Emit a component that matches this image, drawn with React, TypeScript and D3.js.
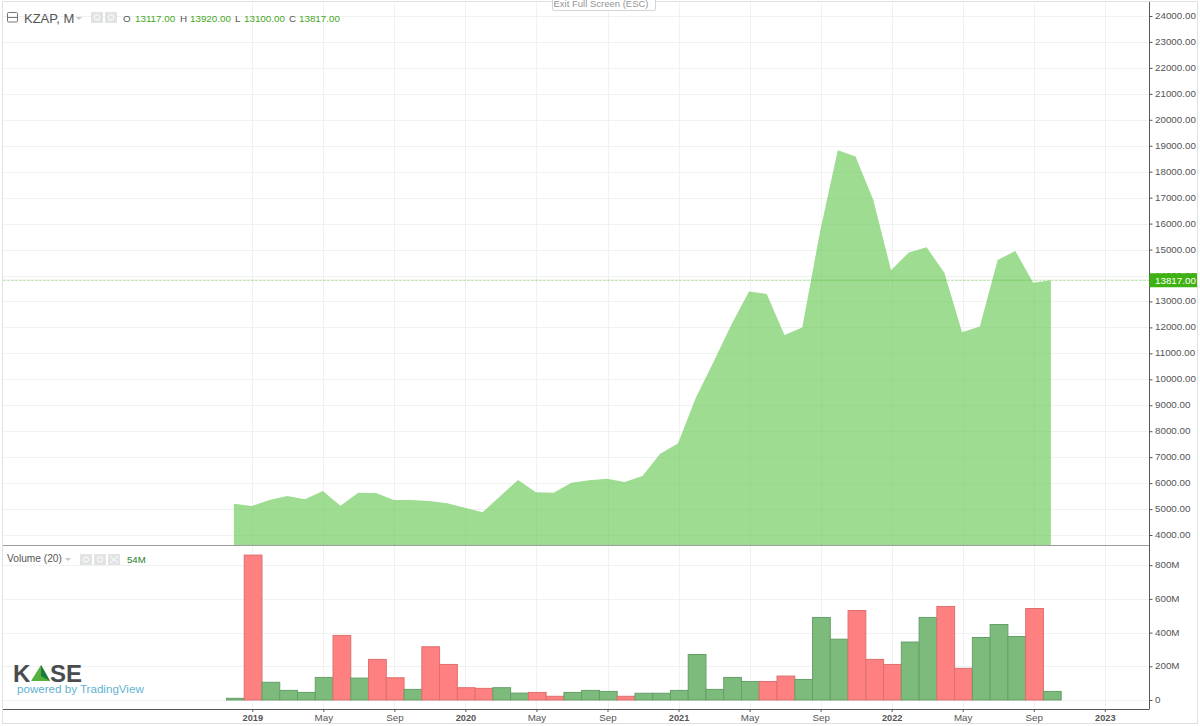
import React, { useEffect, useRef } from 'react';
import * as d3 from 'd3';

const months = [
  '2018-12',
  '2019-01', '2019-02', '2019-03', '2019-04', '2019-05', '2019-06', '2019-07', '2019-08', '2019-09', '2019-10', '2019-11', '2019-12',
  '2020-01', '2020-02', '2020-03', '2020-04', '2020-05', '2020-06', '2020-07', '2020-08', '2020-09', '2020-10', '2020-11', '2020-12',
  '2021-01', '2021-02', '2021-03', '2021-04', '2021-05', '2021-06', '2021-07', '2021-08', '2021-09', '2021-10', '2021-11', '2021-12',
  '2022-01', '2022-02', '2022-03', '2022-04', '2022-05', '2022-06', '2022-07', '2022-08', '2022-09', '2022-10',
];

const closes = [
  5206,
  5117, 5349, 5503, 5375, 5696, 5129, 5631, 5618, 5349, 5349, 5310, 5221,
  5052, 4875, 5503, 6119, 5644, 5631, 6016, 6107, 6170, 6042, 6273, 7133,
  7530, 9280, 10670, 12090, 13380, 13290, 11707, 12000, 15690, 18825, 18590, 16910,
  14200, 14890, 15085, 14108, 11810, 12030, 14600, 14945, 13720, 13817,
];

// volume in millions
const volumes = [
  10,
  860, 105, 57, 45, 134, 383, 130, 241, 132, 63, 316, 211,
  73, 69, 73, 41, 45, 22, 45, 57, 51, 22, 40, 40,
  57, 270, 63, 134, 110, 110, 142, 122, 490, 361, 531, 241,
  211, 344, 490, 555, 188, 371, 448, 377, 543, 51,
];

const volumeUp = [
  1,
  0, 1, 1, 1, 1, 0, 1, 0, 0, 1, 0, 0,
  0, 0, 1, 1, 0, 0, 1, 1, 1, 0, 1, 1,
  1, 1, 1, 1, 1, 0, 0, 1, 1, 1, 0, 0,
  0, 1, 1, 0, 0, 1, 1, 1, 0, 1,
];

const timeTickIndex = [1, 5, 9, 13, 17, 21, 25, 29, 33, 37, 41, 45, 49];
const timeTickLabels = ['2019', 'May', 'Sep', '2020', 'May', 'Sep', '2021', 'May', 'Sep', '2022', 'May', 'Sep', '2023'];

const priceTicks = d3.range(4000, 24001, 1000);
const volumeTicks = [0, 200, 400, 600, 800];
const lastClose = 13817;

const FONT = 'Arial, "Liberation Sans", sans-serif';
const AXIS_COLOR = '#55575a';
const GRID = '#f0f1f1';

const App: React.FC = () => {
  const svgRef = useRef<SVGSVGElement>(null);

  useEffect(() => {
    if (!svgRef.current) return;
    const svg = d3.select(svgRef.current);
    svg.selectAll('*').remove();

    const left = 3;
    const axisX = 1149.5;
    const paneBottom = 545;
    const volBottom = 709;

    const x = d3.scaleLinear().domain([0, 1]).range([234.54, 252.3]);
    const y = d3.scaleLinear().domain([4000, 24000]).range([535, 16]);
    const yVol = d3.scaleLinear().domain([0, 800]).range([700, 565.2]);
    const barW = x(1) - x(0);

    svg.append('rect').attr('x', 0).attr('y', 0).attr('width', 1200).attr('height', 726).attr('fill', '#fff');

    // grid
    const grid = svg.append('g').attr('stroke', GRID).attr('stroke-width', 1);
    timeTickIndex.forEach(i => {
      grid.append('line')
        .attr('x1', Math.round(x(i)) + 0.5).attr('x2', Math.round(x(i)) + 0.5)
        .attr('y1', 2).attr('y2', volBottom);
    });
    priceTicks.forEach(t => {
      grid.append('line').attr('x1', left).attr('x2', axisX)
        .attr('y1', Math.round(y(t)) + 0.5).attr('y2', Math.round(y(t)) + 0.5);
    });
    volumeTicks.forEach(t => {
      grid.append('line').attr('x1', left).attr('x2', axisX)
        .attr('y1', Math.round(yVol(t)) + 0.5).attr('y2', Math.round(yVol(t)) + 0.5);
    });

    // price area, sits a touch left of the month ticks like the original
    const area = d3.area<number>()
      .x((_, i) => x(i) - 0.6)
      .y0(paneBottom)
      .y1(d => y(d));
    svg.append('path').datum(closes).attr('d', area)
      .attr('fill', 'rgb(100, 200, 80)').attr('fill-opacity', 0.63);

    // last price line
    svg.append('line')
      .attr('x1', left).attr('x2', axisX)
      .attr('y1', y(lastClose)).attr('y2', y(lastClose))
      .attr('stroke', '#3fb213').attr('stroke-opacity', 0.4).attr('stroke-width', 1).attr('stroke-dasharray', '3,1');

    // volume bars
    svg.append('g').selectAll('rect')
      .data(volumes)
      .enter().append('rect')
      .attr('x', (_, i) => x(i) + 0.8 - barW / 2)
      .attr('width', barW)
      .attr('y', d => yVol(d))
      .attr('height', d => yVol(0) - yVol(d))
      .attr('fill', (_, i) => (volumeUp[i] ? '#7dbb7d' : '#ff8080'))
      .attr('stroke', (_, i) => (volumeUp[i] ? '#669f68' : '#dd7070'))
      .attr('stroke-width', 1);

    // axes
    const priceAxis = d3.axisRight(y)
      .tickValues(priceTicks)
      .tickSize(3)
      .tickPadding(2.5)
      .tickFormat(d => d3.format('.2f')(d as number));
    const volAxis = d3.axisRight(yVol)
      .tickValues(volumeTicks)
      .tickSize(3)
      .tickPadding(2.5)
      .tickFormat(d => (d === 0 ? '0' : `${d}M`));
    const timeAxis = d3.axisBottom(x)
      .tickValues(timeTickIndex)
      .tickSize(3)
      .tickPadding(2.5)
      .tickFormat((_, i) => timeTickLabels[i]);

    const rightAxes = [
      svg.append('g').attr('transform', `translate(${axisX},0)`).call(priceAxis),
      svg.append('g').attr('transform', `translate(${axisX},0)`).call(volAxis),
    ];
    rightAxes.forEach(g => g.selectAll('text').attr('y', -0.6));

    [
      ...rightAxes,
      svg.append('g').attr('transform', `translate(0,${volBottom})`).call(timeAxis),
    ].forEach(g => {
      g.select('.domain').remove();
      g.selectAll('line').attr('stroke', AXIS_COLOR);
      g.selectAll('text')
        .attr('fill', '#555')
        .style('font-family', FONT)
        .style('font-size', '9.8px');
    });
    svg.selectAll('g.tick text')
      .filter(function () {
        return /^20\d\d$/.test((this as SVGTextElement).textContent || '');
      })
      .style('font-size', '9.2px')
      .style('font-weight', '700');

    // pane borders
    const border = svg.append('g').attr('stroke', AXIS_COLOR).attr('fill', 'none');
    border.append('line').attr('x1', left).attr('x2', axisX).attr('y1', 545.5).attr('y2', 545.5).attr('stroke', '#9a9c9e');
    border.append('line').attr('x1', left).attr('x2', axisX).attr('y1', volBottom + 0.5).attr('y2', volBottom + 0.5);
    border.append('line').attr('x1', axisX).attr('x2', axisX).attr('y1', 2).attr('y2', volBottom);
    svg.append('rect')
      .attr('x', 2.5).attr('y', 1.5).attr('width', 1195).attr('height', 722)
      .attr('fill', 'none').attr('stroke', '#dfe0e1');

    // last price badge
    const badge = svg.append('g').attr('transform', `translate(${axisX},${y(lastClose)})`);
    badge.append('rect').attr('x', 0).attr('y', -7).attr('width', 47.5).attr('height', 14).attr('fill', '#3fb213');
    badge.append('text').attr('x', 5.5).attr('y', 3.5)
      .attr('fill', '#fff').style('font-family', FONT).style('font-size', '9.8px')
      .text('13817.00');

    // header legend
    const head = svg.append('g').style('font-family', FONT);
    head.append('rect').attr('x', 7.5).attr('y', 12.5).attr('width', 10).attr('height', 9.5).attr('rx', 1)
      .attr('fill', 'none').attr('stroke', '#777');
    head.append('line').attr('x1', 8).attr('x2', 17).attr('y1', 17.5).attr('y2', 17.5).attr('stroke', '#777');
    head.append('text').attr('x', 24).attr('y', 23).attr('fill', '#555').style('font-size', '13px').text('KZAP, M');
    head.append('path').attr('d', 'M76 17 L82 17 L79 20 Z').attr('fill', '#c8c8c8');
    [91, 105].forEach(bx => {
      head.append('rect').attr('x', bx).attr('y', 12).attr('width', 12).attr('height', 11).attr('fill', '#e2e3e4');
      head.append('circle').attr('cx', bx + 6).attr('cy', 17.5).attr('r', 2.6).attr('fill', 'none').attr('stroke', '#fff');
    });
    const ohlc: [number, string, number, string][] = [
      [123, 'O', 135, '13117.00'], [180, 'H', 190, '13920.00'], [235, 'L', 244, '13100.00'], [289, 'C', 299, '13817.00'],
    ];
    ohlc.forEach(([kx, k, vx, v]) => {
      head.append('text').attr('x', kx).attr('y', 22).attr('fill', '#555').style('font-size', '9.8px').text(k);
      head.append('text').attr('x', vx).attr('y', 22).attr('fill', '#45a825').style('font-size', '9.8px').text(v);
    });

    // volume legend
    const volHead = svg.append('g').style('font-family', FONT);
    volHead.append('text').attr('x', 7).attr('y', 562).attr('fill', '#555').style('font-size', '10.2px').text('Volume (20)');
    volHead.append('path').attr('d', 'M65 558 L71 558 L68 561 Z').attr('fill', '#c8c8c8');
    [80, 94, 108].forEach((bx, i) => {
      volHead.append('rect').attr('x', bx).attr('y', 554).attr('width', 12).attr('height', 11).attr('fill', '#e2e3e4');
      if (i < 2) {
        volHead.append('circle').attr('cx', bx + 6).attr('cy', 559.5).attr('r', 2.6).attr('fill', 'none').attr('stroke', '#fff');
      } else {
        volHead.append('path').attr('d', `M${bx + 2} 556 L${bx + 10} 563 M${bx + 10} 556 L${bx + 2} 563`).attr('stroke', '#fff');
      }
    });
    volHead.append('text').attr('x', 127).attr('y', 563).attr('fill', '#2a7d2a').style('font-size', '9.6px').text('54M');

    // exit full screen tab
    const tab = svg.append('g');
    tab.append('path').attr('d', 'M552.5 0 V9 Q552.5 10.5 554 10.5 H654 Q655.5 10.5 655.5 9 V0')
      .attr('fill', '#fff').attr('stroke', '#d4d5d6');
    tab.append('text').attr('x', 601).attr('y', 7).attr('text-anchor', 'middle')
      .attr('fill', '#939496').style('font-family', FONT).style('font-size', '9.5px')
      .text('Exit Full Screen (ESC)');

    // logo
    const logo = svg.append('g').style('font-family', FONT);
    logo.append('text').attr('x', 13).attr('y', 682).attr('fill', '#4a4c4f')
      .style('font-size', '24px').style('font-weight', '700').text('K');
    logo.append('path').attr('d', 'M31 681 L41 665 L50 681 Z').attr('fill', '#56b13f');
    logo.append('path').attr('d', 'M41 665 L50 681 L41 676 Z').attr('fill', '#1c7a3a');
    logo.append('text').attr('x', 50).attr('y', 682).attr('fill', '#4a4c4f')
      .style('font-size', '24px').style('font-weight', '700').text('SE');
    logo.append('text').attr('x', 17).attr('y', 693).attr('fill', '#5fb3d0')
      .style('font-size', '11.6px').text('powered by TradingView');
  }, []);

  return (
    <svg
      ref={svgRef}
      width={1200}
      height={726}
      style={{ position: 'absolute', left: 0, top: 0 }}
    />
  );
};

export default App;
